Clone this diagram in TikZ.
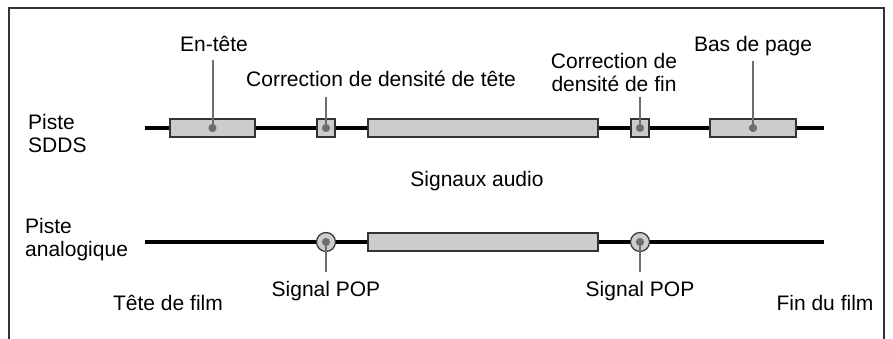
\documentclass[tikz,border=0pt]{standalone}
\usepackage{fontspec}
\setmainfont{Liberation Sans}
\usetikzlibrary{arrows.meta,positioning}

\definecolor{boxgrey}{HTML}{CCCCCC}
\definecolor{edgegrey}{HTML}{333333}
\definecolor{pingrey}{HTML}{6E6E6E}

\begin{document}
\begin{tikzpicture}[
  x=1pt, y=-1pt,
  lbl/.style={inner sep=0pt,font=\fontsize{21}{23}\selectfont},
  track/.style={line width=4.5pt,black},
  seg/.style={draw=edgegrey,fill=boxgrey,line width=1.2pt,inner sep=0pt,minimum height=18pt},
  pop/.style={circle,draw=edgegrey,fill=boxgrey,line width=1.2pt,inner sep=0pt,minimum size=19pt},
  pin/.style={draw=pingrey,line width=2pt,-{Circle[length=8pt]},shorten >=-4pt}
]
\useasboundingbox (0,0) rectangle (893,339);
\draw[edgegrey,line width=1.2pt] (9,339) -- (9,8) -- (884,8) -- (884,339);

% tracks
\coordinate (sddsL) at (145,128);
\coordinate (sddsR) at (824,128);
\coordinate (anaL) at (145,242);
\coordinate (anaR) at (824,242);
\draw[track] (sddsL) -- (sddsR);
\draw[track] (anaL) -- (anaR);

% SDDS track
\node[seg, minimum width=85pt] (entete) at (212.5,128) {};
\node[seg, minimum width=18pt] (dtete) at (326,128) {};
\node[seg, minimum width=230pt] (audio) at (483,128) {};
\node[seg, minimum width=18pt] (dfin) at (640,128) {};
\node[seg, minimum width=86pt] (bas) at (753,128) {};

% analog track
\node[pop] (popa) at (326,242) {};
\node[seg, minimum width=230pt] (audiob) at (483,242) {};
\node[pop] (popb) at (640,242) {};

% labels
\node[lbl, anchor=base] (lentete) at (214,52) {En-tête};
\node[lbl, anchor=base] (ldtete) at (381,87) {Correction de densité de tête};
\node[lbl, anchor=base, align=center] (ldfin) at (614,92) {Correction de\\densité de fin};
\node[lbl, anchor=base] (lbas) at (753,52) {Bas de page};
\node[lbl, anchor=base west, align=left] (lsdds) at (28,153) {Piste\\SDDS};
\node[lbl, anchor=base] (laudio) at (477,186) {Signaux audio};
\node[lbl, anchor=base west, align=left] (lana) at (25,256) {Piste\\analogique};
\node[lbl, anchor=base] (lpopa) at (326,296) {Signal POP};
\node[lbl, anchor=base] (lpopb) at (640,296) {Signal POP};
\node[lbl, anchor=base] (ltete) at (168,310) {Tête de film};
\node[lbl, anchor=base] (lfin) at (825,310) {Fin du film};

% pointers
\draw[pin] ([yshift=-8pt]lentete.south -| entete.center) -- (entete.center);
\draw[pin] ([yshift=-10pt]dtete.center |- ldtete.south) -- (dtete.center);
\draw[pin] ([yshift=-5pt]dfin.center |- ldfin.south) -- (dfin.center);
\draw[pin] ([yshift=-4pt]lbas.south -| bas.center) -- (bas.center);
\draw[pin] ([yshift=9pt]lpopa.north) -- (popa.center);
\draw[pin] ([yshift=9pt]lpopb.north) -- (popb.center);
\end{tikzpicture}
\end{document}
